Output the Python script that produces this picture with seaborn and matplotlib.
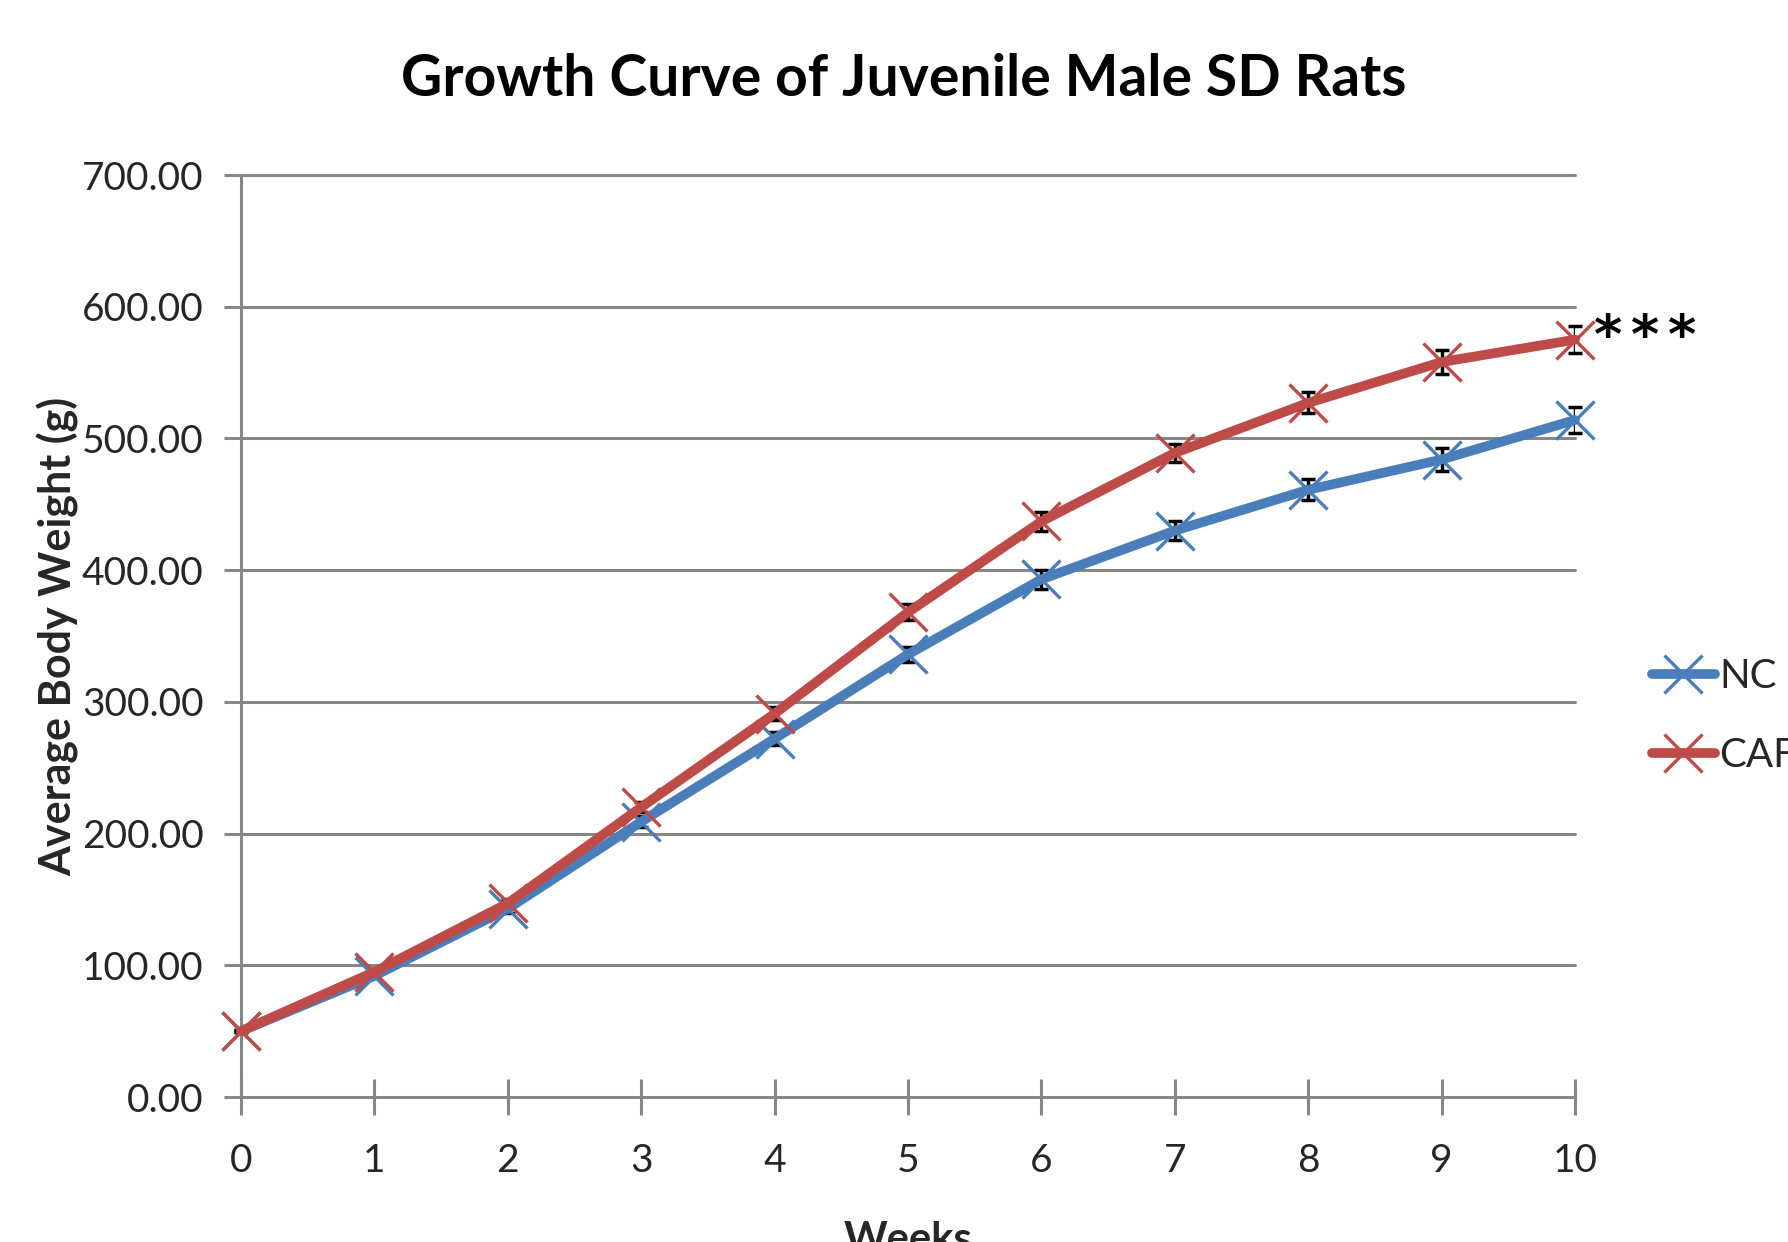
import numpy as np
import pandas as pd
import matplotlib
matplotlib.use("Agg")
import matplotlib.pyplot as plt
import seaborn as sns
from matplotlib.lines import Line2D

# ---- data ----
weeks = [0, 1, 2, 3, 4, 5, 6, 7, 8, 9, 10]
nc_weight = [50, 92, 143, 209, 272, 336, 393, 430, 461, 484, 514]
caf_weight = [50, 95, 147, 220, 291, 368, 437, 489, 527, 558, 575]
nc_err = [1, 2, 3, 4, 5, 6, 7, 7, 8, 9, 10]
caf_err = [1, 2, 3, 4, 5, 6, 7, 7, 8, 9, 10]
groups = ["NC", "CAF"]
y_ticks = [0, 100, 200, 300, 400, 500, 600, 700]
title = "Growth Curve of Juvenile Male SD Rats"
x_label = "Weeks"
y_label = "Average Body Weight (g)"
signif = ["*", "*", "*"]

colors = {"NC": "#4A7EBB", "CAF": "#BE4B48"}

df = pd.DataFrame({
    "Weeks": weeks * 2,
    "Weight": nc_weight + caf_weight,
    "Err": nc_err + caf_err,
    "Group": ["NC"] * len(weeks) + ["CAF"] * len(weeks),
})

sns.set_theme(style="white")
plt.rcParams["font.family"] = ["Lato", "DejaVu Sans"]

fig = plt.figure(figsize=(17.88, 12.42), dpi=100)
ax = fig.add_axes([241 / 1788, 1 - 1097 / 1242, (1575 - 241) / 1788, (1097 - 175) / 1242])

grid_c = "#878787"
for yv in y_ticks[1:]:
    ax.axhline(yv, color=grid_c, lw=2.2, zorder=0)

for g in groups:
    sub = df[df["Group"] == g]
    ax.errorbar(sub["Weeks"], sub["Weight"], yerr=sub["Err"], fmt="none",
                ecolor="black", elinewidth=2.5, capsize=5, capthick=2.5, zorder=2)

for g in groups:
    sub = df[df["Group"] == g]
    sns.lineplot(data=sub, x="Weeks", y="Weight", color=colors[g],
                 linewidth=7, marker="x", markersize=27,
                 markeredgewidth=2.4, markeredgecolor=colors[g],
                 ax=ax, legend=False, zorder=3, errorbar=None)
for ln in ax.get_lines():
    ln.set_solid_capstyle("round")
    ln.set_clip_on(False)

ax.set_xlim(0, 10)
ax.set_ylim(0, 700)
ax.set_xticks(weeks)
ax.set_xticklabels([str(w) for w in weeks])
ax.set_yticks(y_ticks)
ax.set_yticklabels([f"{v:.2f}" for v in y_ticks])
ax.tick_params(axis="y", length=12, width=2.2, color=grid_c, direction="out",
               labelsize=28, pad=15, left=True)
ax.tick_params(axis="x", length=26, width=2.2, color=grid_c, direction="inout",
               labelsize=28, pad=20, bottom=True)
for s in ["top", "right"]:
    ax.spines[s].set_visible(False)
for s in ["left", "bottom"]:
    ax.spines[s].set_color(grid_c)
    ax.spines[s].set_linewidth(2.2)
for sp in ax.spines.values():
    sp.set_zorder(1)

ax.set_xlabel(x_label, fontsize=30, fontweight="bold", labelpad=30)
ax.set_ylabel(y_label, fontsize=31, fontweight="bold", labelpad=2)
fig.text(904 / 1788, 1 - 80 / 1242, title, fontsize=41, fontweight="bold",
         ha="center", va="center", color="black")

for i, s in enumerate(signif):
    ax.text(10.25 + 0.275 * i, 565, s, fontsize=39, fontweight="bold",
            ha="center", va="baseline", transform=ax.transData,
            color="black", family="DejaVu Sans")

handles = [Line2D([0], [0], color=colors[g], lw=7, marker="x", markersize=27,
                  markeredgewidth=2.4, solid_capstyle="round") for g in groups]
leg = fig.legend(handles, groups, loc="center left",
                 bbox_to_anchor=(1636 / 1788, 1 - 716 / 1242),
                 frameon=False, fontsize=29, handlelength=1.55,
                 handletextpad=0.12, labelspacing=1.05, borderaxespad=0)

fig.savefig("out.png", dpi=100)
